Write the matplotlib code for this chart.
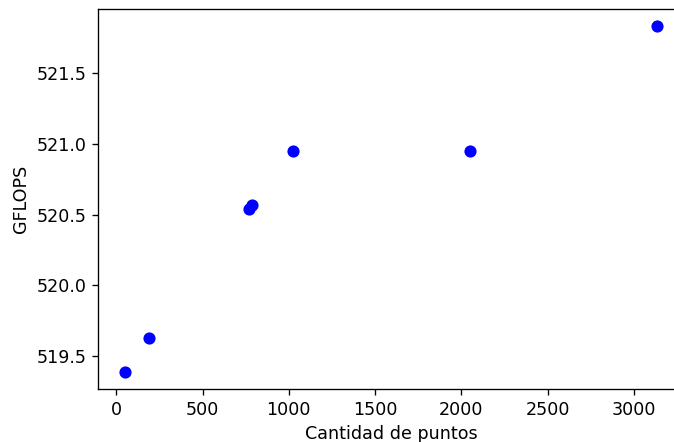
import matplotlib
matplotlib.use('Agg')
import matplotlib.pyplot as plt

# Number of points vs. measured throughput
puntos = [48, 192, 768, 784, 1024, 2048, 3136]
gflops = [519.39, 519.63, 520.54, 520.57, 520.95, 520.95, 521.83]

plt.rcParams['font.size'] = 10.5

fig = plt.figure(figsize=(674 / 120, 442 / 120), dpi=120)
ax = fig.add_axes([0.1454, 0.1199, 0.8694, 0.8597])

ax.plot(puntos, gflops, 'bo', markersize=6.3)
ax.set_xlabel("Cantidad de puntos")
ax.set_ylabel("GFLOPS")

fig.savefig("out.png", dpi=120)
